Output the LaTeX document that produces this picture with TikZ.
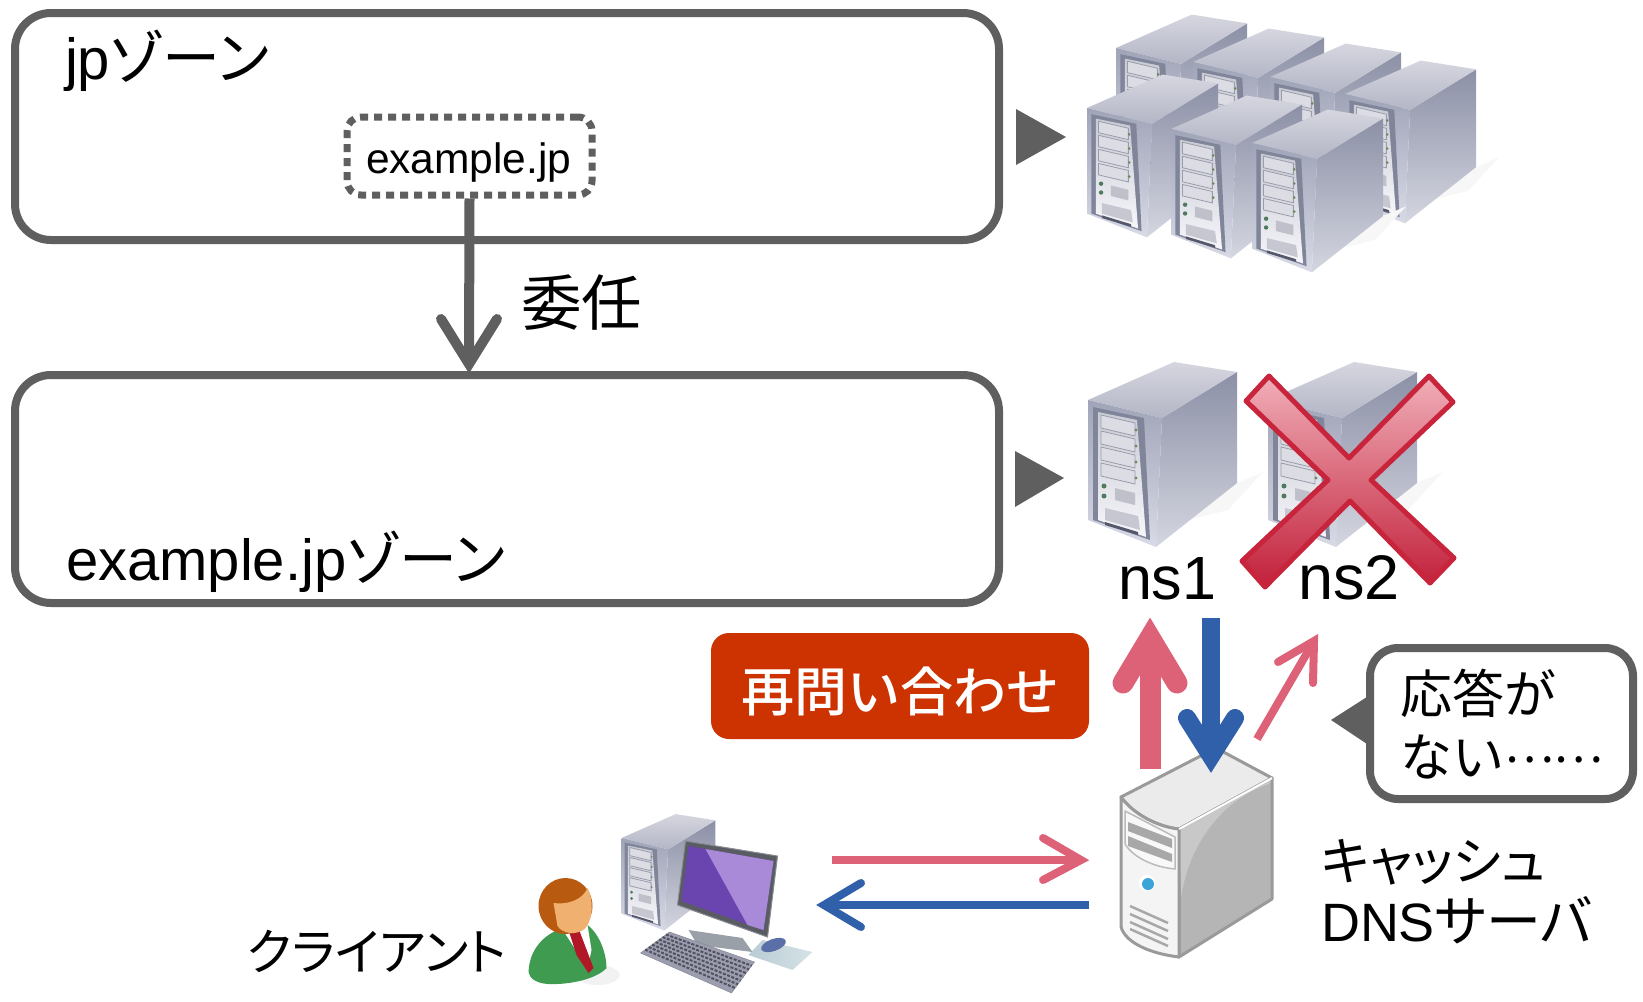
\documentclass[tikz,border=0pt]{standalone}
\usepackage{fontspec}
\setmainfont{Liberation Sans}
\newfontfamily\cjk[RawFeature=+palt]{Noto Sans CJK JP}
\newfontfamily\cjkfull{Noto Sans CJK JP}
\newfontfamily\cjkmed{Noto Sans CJK JP Medium}
\newcommand\fsz[1]{\fontsize{#1}{#1}\selectfont}
\usetikzlibrary{calc}
\definecolor{dgray}{HTML}{5F5F5F}
\definecolor{rpink}{HTML}{DD6277}
\definecolor{rblue}{HTML}{3060AA}
\definecolor{rred}{HTML}{CC3300}
\newcommand\dc[1]{\definecolor{H#1}{HTML}{#1}}
\dc{8C90A6}\dc{D4D6E0}\dc{D5D6DF}\dc{B4B6C6}\dc{A0A4B8}\dc{D8DAE6}\dc{80859A}\dc{C8CAD4}\dc{F6F6FA}\dc{9A9CAA}\dc{DCDDE4}\dc{6E8A60}\dc{4E7A60}\dc{BFC0CA}\dc{C6C7D0}\dc{55586A}
\dc{C8243C}\dc{F0AEB8}\dc{C2203A}\dc{EBEBEB}\dc{9A9A9A}\dc{B5B5B5}\dc{C8C8C8}\dc{F4F4F4}\dc{BBBBBB}\dc{F8F8F8}\dc{A8A8A8}\dc{3BA5D8}
\dc{9AA0A8}\dc{5A5C64}\dc{8A8C92}\dc{6A45B0}\dc{A98AD8}\dc{9C9EB0}\dc{80828F}\dc{50525F}\dc{B8CCD4}\dc{D6E2E6}\dc{5A6EA8}\dc{3E9B50}\dc{B01828}\dc{B85A10}\dc{F0B070}
\tikzset{
  zonebox/.style={draw=dgray,line width=8pt,rounded corners=36pt,fill=white},
  txt/.style={inner sep=0pt,outer sep=0pt,anchor=base west,text=black},
  tri/.style={fill=dgray,draw=none},
  grayline/.style={draw=dgray,line width=10pt,line cap=round,line join=miter},
  pinkbig/.style={draw=rpink,line width=21pt,line join=miter},
  bluebig/.style={draw=rblue,line width=18pt,line join=miter},
  thinpink/.style={draw=rpink,line width=8pt,line join=miter},
  thinblue/.style={draw=rblue,line width=8pt,line join=miter},
  tower/.pic={
    \fill[black!3] (100,120) -- (149,83) -- (175,72) -- (140,110) -- cycle;
    \shade[top color=H8C90A6,bottom color=HD4D6E0] (74,18) -- (149,-28) -- (149,83) -- (68,147) -- cycle;
    \shade[top color=HD5D6DF,bottom color=HB4B6C6] (0,0) -- (86,-38) -- (149,-28) -- (74,18) -- cycle;
    \shade[top color=HA0A4B8,bottom color=HD8DAE6] (0,0) -- (74,18) -- (68,147) -- (0,120) -- cycle;
    \fill[H80859A] (5,7) -- (56,18) -- (62,140) -- (5,120) -- cycle;
    \shade[top color=HC8CAD4,bottom color=HF6F6FA] (10,12) -- (49,20) -- (58,137) -- (10,120) -- cycle;
    \foreach \i in {0,1,2,3}{
      \draw[H9A9CAA,line width=.8pt,fill=HDCDDE4] (13,{15+\i*16}) -- (47,{23+\i*16}) -- (47,{36+\i*16}) -- (13,{28+\i*16}) -- cycle;
      \fill[H6E8A60] (48,{30+\i*16}) circle (1.6);
    }
    \fill[H4E7A60] (16,86) circle (2.5) (16,96) circle (2.5);
    \fill[HBFC0CA] (27,88) -- (47,93) -- (47,105) -- (27,100) -- cycle;
    \fill[HC6C7D0] (17,108) -- (50,116) -- (52,130) -- (17,120) -- cycle;
    \fill[H55586A] (17,122) -- (50,132) -- (50,135) -- (17,125) -- cycle;
  }
}
\begin{document}
\begin{tikzpicture}[x=1pt,y=-1pt]
\useasboundingbox (0,0) rectangle (1643,1001);
% zones
\draw[zonebox] (15,13) rectangle (999,240);
\draw[zonebox] (15,375) rectangle (999,603);
\node[txt,font=\fsz{58}] (jpz) at (65,79) {jp{\cjk\fsz{58}ゾーン}};
\node[txt,font=\fsz{58}] (exz) at (66,580) {example.jp{\cjk\fsz{58}ゾーン}};
% delegated
\node[draw=dgray,line width=7pt,dash pattern=on 8pt off 6pt,rounded corners=14pt,minimum width=245pt,minimum height=78pt,inner sep=0pt] (exb) at (469.5,156) {};
\node[txt,font=\fsz{42.5}] (exl) at (366,173) {example.jp};
\coordinate (delTip) at (469,364);
\draw[grayline,line cap=butt] (exb.south) -- (delTip);
\draw[grayline] ($(delTip)+(-28,-45)$) -- (delTip) -- ($(delTip)+(28,-45)$);
\node[txt,font=\cjkfull\fsz{60.5}] (ini) at (521,325) {委任};
% triangles
\fill[tri] (1016,109) -- (1066,137) -- (1016,165) -- cycle;
\fill[tri] (1015,451) -- (1064,478) -- (1015,507) -- cycle;
% servers
\foreach \x/\y in {1116/48,1193/62,1270/77,1345/94,1087/108,1171/129,1252/143}
  \pic[scale=.88] at (\x,\y) {tower};
\pic at (1088,400) {tower};
\pic at (1268,400) {tower};
% cross
\path[draw=HC8243C,line width=5pt,line join=round,top color=HF0AEB8,bottom color=HC2203A]
 (1269,376) -- (1349,458) -- (1429,376) -- (1453,402) -- (1371,480) -- (1454,558) -- (1430,583) -- (1350,501) -- (1265,587) -- (1242,561) -- (1328,480) -- (1246,401) -- cycle;
\node[txt,font=\fsz{61}] (ns1) at (1118,599) {ns1};
\node[txt,font=\fsz{63}] (ns2) at (1298,599) {ns2};
% re-query label
\node[fill=rred,rounded corners=18pt,minimum width=378pt,minimum height=106pt,inner sep=0pt] (req) at (900,686) {};
\node[inner sep=0pt,text=white,font=\cjkmed\fsz{53}] (reqt) at (900,691) {再問い合わせ};
% arrows around cache
\coordinate (upS) at (1150,769); \coordinate (upT) at (1150,638);
\draw[pinkbig] (upS) -- ($(upT)+(0,-2)$);
\draw[pinkbig,line cap=round] (1123,683) -- (upT) -- (1177,683);
\coordinate (dnS) at (1211,618); \coordinate (dnT) at (1211,756);
% callout
\fill[tri] (1331,720) -- (1370,695) -- (1370,746) -- cycle;
\draw[zonebox,rounded corners=28pt,line width=8pt] (1370,648) rectangle (1633,799);
\node[txt,font=\cjkfull\fsz{52}] (c1) at (1400,713) {応答が};
\node[txt,font=\cjkfull\fsz{52}] (c2) at (1400,776) {ない\raisebox{14pt}{\fsz{47}……}};
% cache server
\begin{scope}[line join=round,xshift=-2pt,yshift=1pt]
\path[fill=HEBEBEB,draw=H9A9A9A,line width=3pt] (1123,798) -- (1218,749) -- (1274,779) -- (1181,830) .. controls (1160,828) and (1135,815) .. (1123,798) -- cycle;
\path[fill=HB5B5B5,draw=H9A9A9A,line width=3pt] (1181,830) -- (1274,779) -- (1274,900) -- (1181,958) -- cycle;
\fill[HC8C8C8] (1183,900) .. controls (1190,845) and (1225,800) .. (1271,785) -- (1274,779) -- (1181,830) -- cycle;
\path[fill=HF4F4F4,draw=H9A9A9A,line width=3pt] (1123,798) .. controls (1135,815) and (1160,828) .. (1181,830) -- (1181,958) .. controls (1155,955) and (1128,945) .. (1123,928) -- cycle;
\draw[white,line width=2pt] (1181,830) -- (1274,779);
\draw[HBBBBBB,line width=1.5pt,fill=HF8F8F8] (1127,812) -- (1177,838) -- (1177,870) .. controls (1155,868) and (1135,858) .. (1127,845) -- cycle;
\fill[HA8A8A8] (1130,823) -- (1174,840) -- (1174,849) -- (1130,832) -- cycle;
\fill[HA8A8A8] (1130,837) -- (1174,855) -- (1174,863) -- (1130,847) -- cycle;
\fill[white] (1149,884) circle (8);
\fill[H3BA5D8] (1150,885) circle (6);
\foreach \d in {0,8,16,23}
  \draw[HA8A8A8,line width=2.5pt] (1132,{907+\d}) -- (1170,{924+\d});
\end{scope}
\draw[bluebig] (dnS) -- (dnT);
\draw[bluebig,line cap=round] (1187,718) -- (dnT) -- (1235,718);
\coordinate (dgS) at (1257,739); \coordinate (dgT) at (1314,641);
\draw[thinpink] (dgS) -- (dgT);
\draw[thinpink,line cap=round] (1278,662) -- (dgT) -- (1313,683);
\node[txt,font=\cjk\fsz{52}] (k1) at (1321,880) {キャッシュ};
\node[txt,font=\fsz{54}] (k2) at (1321,941) {DNS{\cjk\fsz{55}サーバ}};
% client arrows
\coordinate (qS) at (832,860); \coordinate (qT) at (1081,860);
\draw[thinpink] (qS) -- (qT);
\draw[thinpink,line cap=round] (1043,838) -- (qT) -- (1043,880);
\coordinate (aS) at (1089,905); \coordinate (aT) at (824,905);
\draw[thinblue] (aS) -- (aT);
\draw[thinblue,line cap=round] (861,883) -- (aT) -- (861,927);
\node[txt,font=\cjk\fsz{50}] (cl) at (247,970) {クライアント};
% client PC
\begin{scope}[xshift=-2.5pt]
\pic[scale=.63] at (624,838) {tower};
\fill[H9AA0A8] (691,930) -- (745,938) -- (755,952) -- (700,945) -- cycle;
\path[fill=H5A5C64,draw=H8A8C92,line width=1pt] (688,841) -- (780,856) -- (770,937) -- (680,905) -- cycle;
\fill[H6A45B0] (691,846) -- (776,861) -- (766,930) -- (684,901) -- cycle;
\fill[HA98AD8] (708,849) -- (776,861) -- (766,930) -- (750,925) -- cycle;
\path[fill=H9C9EB0,draw=H80828F] (672,932) -- (757,962) -- (734,993) -- (643,953) -- cycle;
\foreach \t in {.12,.24,.36,.48,.6,.72,.84}
  \draw[H50525F,line width=2pt,dash pattern=on 3pt off 1.5pt] ($(672,932)!\t!(643,953)$) -- ($(757,962)!\t!(734,993)$);
\shade[left color=HB8CCD4,right color=HD6E2E6] (765,940) -- (815,952) -- (795,970) -- (751,955) -- cycle;
\fill[H5A6EA8,rotate around={20:(776,945)}] (776,945) ellipse (13 and 6);
% person
\fill[black!5] (600,975) ellipse (22 and 10);
\path[fill=H3E9B50] (531,972) .. controls (532,950) and (545,935) .. (565,928) -- (590,925) .. controls (603,935) and (609,955) .. (609,968) .. controls (600,978) and (575,985) .. (550,984) .. controls (538,983) and (532,978) .. (531,972) -- cycle;
\fill[white] (564,928) -- (590,925) -- (594,950) -- (590,968) -- cycle;
\fill[HB01828] (572,933) -- (582,931) -- (596,968) -- (591,973) -- (579,955) -- cycle;
\fill[HB85A10] (568,906) ellipse (27 and 28);
\path[fill=HF0B070] (556,903) .. controls (570,905) and (585,900) .. (590,888) .. controls (596,900) and (596,918) .. (588,928) .. controls (580,936) and (565,934) .. (560,926) -- cycle;
\end{scope}
\end{tikzpicture}
\end{document}
